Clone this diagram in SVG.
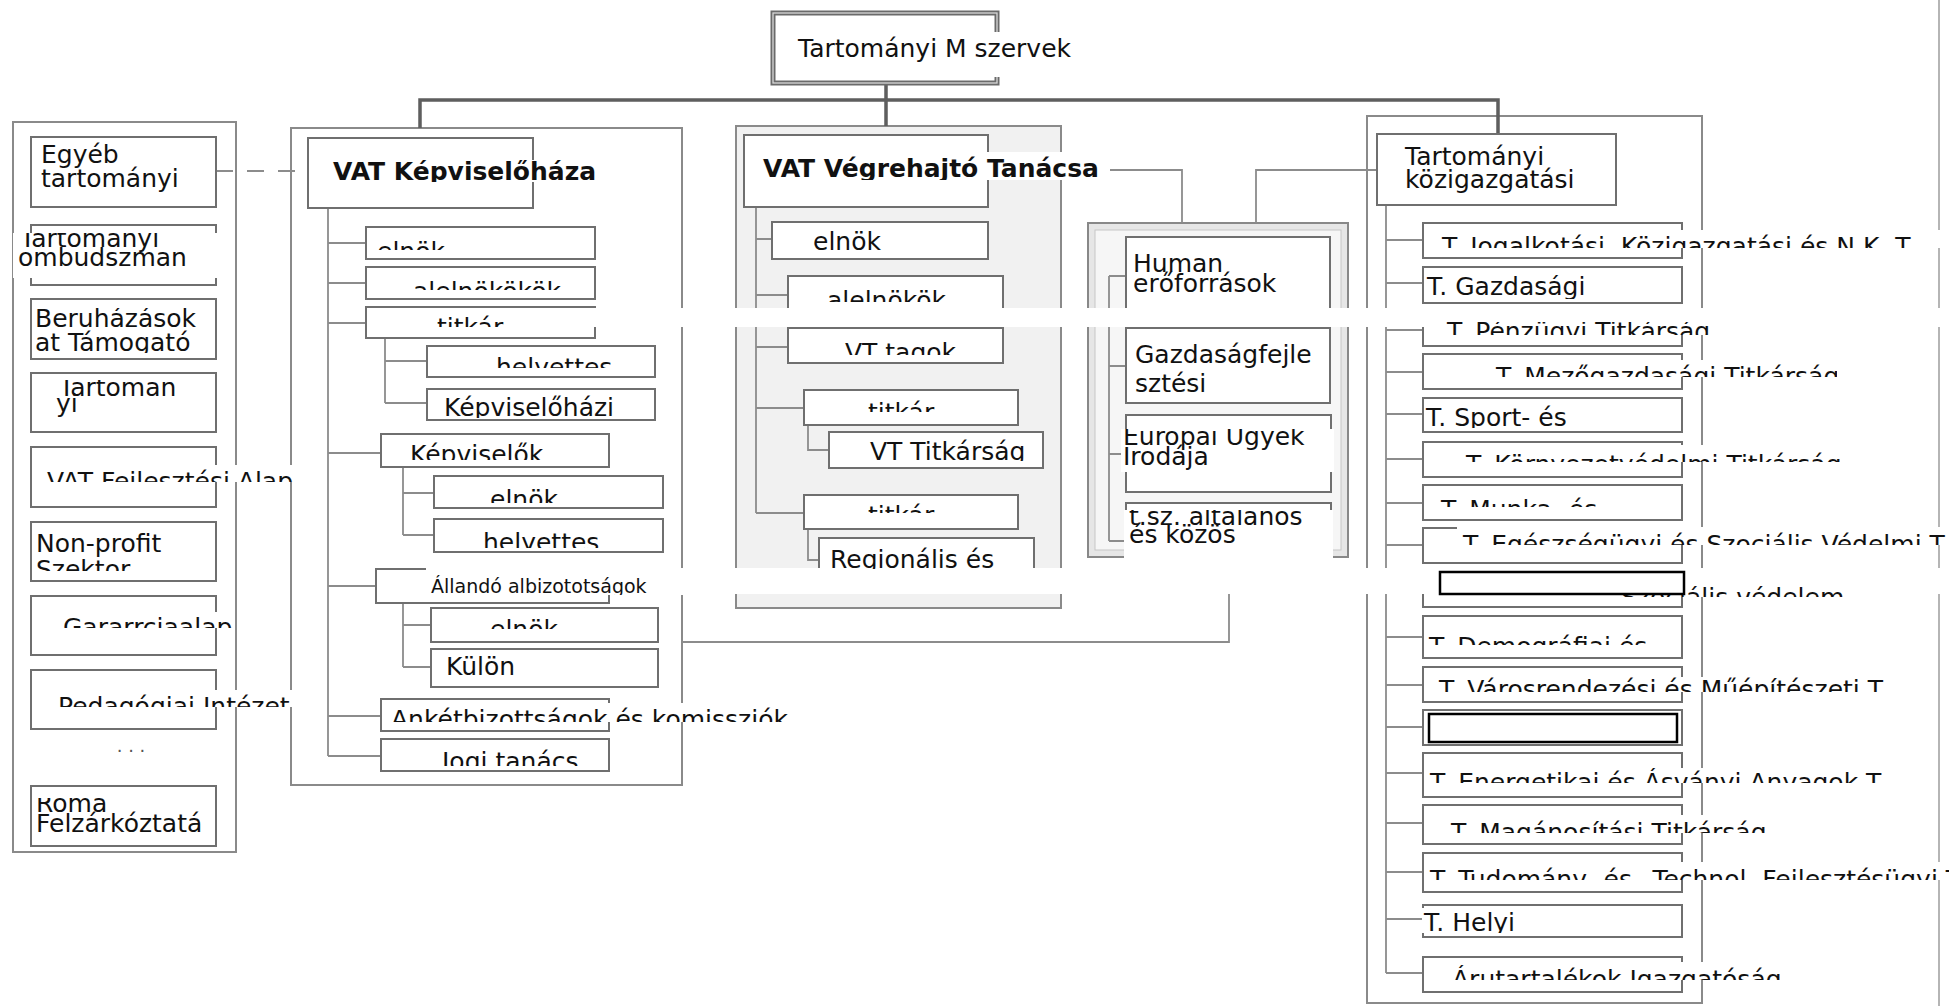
<svg xmlns="http://www.w3.org/2000/svg" width="1949" height="1006" viewBox="0 0 1949 1006">
<style>
.t{font-family:"DejaVu Sans","Liberation Sans",sans-serif;font-size:25px;fill:#111}
.b{font-weight:bold}
.s{font-size:19px}
.bg{fill:#fff}
.box{fill:#fff;stroke:#6f6f6f;stroke-width:2;mask:url(#bm)}
.cont{fill:none;stroke:#8a8a8a;stroke-width:2;mask:url(#bm)}
.ln{fill:none;stroke:#8c8c8c;stroke-width:1.8}
.main{fill:none;stroke:#5e5e5e;stroke-width:3.5}
.blk{fill:#fff;stroke:#000;stroke-width:2.5}
</style>
<defs>
<mask id="bm" maskUnits="userSpaceOnUse" x="0" y="0" width="1949" height="1006">
<rect x="0" y="0" width="1949" height="1006" fill="#fff"/>
<rect x="433" y="308" width="1516" height="19" fill="#000"/>
<rect x="426" y="568" width="1523" height="26" fill="#000"/>
</mask>
</defs>
<rect x="0" y="0" width="1949" height="1006" fill="#fff"/>

<g id="containers">
<line class="cont" x1="1939" y1="0" x2="1939" y2="1006" style="stroke:#b5b5b5"/>
<rect class="cont" x="13" y="122" width="223" height="730"/>
<rect class="cont" x="291" y="128" width="391" height="657"/>
<rect class="cont" x="736" y="126" width="325" height="482" style="fill:#f1f1f1"/>
<rect class="cont" x="1088" y="223" width="260" height="334" style="fill:#e6e6e6;stroke:#888"/>
<rect class="cont" x="1095" y="230" width="246" height="320" style="fill:#f6f6f6;stroke:#c6c6c6;stroke-width:1"/>
<rect class="cont" x="1367" y="116" width="335" height="887"/>
</g>

<g id="connectors" mask="url(#bm)">
<path class="main" d="M420,128 V100 H1498 V134 M886,83 V126"/>
<path class="ln" d="M216,171 H308" stroke-dasharray="17 14"/>
<path class="ln" d="M1110,170 H1182 V223 M1377,170 H1256 V223 M682,642 H1229 V557"/>
<path class="ln" d="M328,208 V756 M328,243 H366 M328,283 H366 M328,323 H366 M385,338 V403 M385,361 H427 M385,403 H427 M328,453 H381 M403,467 V535 M403,493 H434 M403,535 H434 M328,586 H376 M403,603 V667 M403,625 H431 M403,667 H431 M328,716 H381 M328,756 H381"/>
<path class="ln" d="M756,207 V513 M756,239 H772 M756,295 H788 M756,347 H788 M756,408 H804 M756,513 H804 M808,425 V450 H829 M808,529 V560 H819"/>
<path class="ln" d="M1109,276 V541 M1109,276 H1126 M1109,366 H1126 M1109,454 H1126 M1109,541 H1126"/>
<path class="ln" d="M1386,205 V973 M1386,240 H1423 M1386,283 H1423 M1386,330 H1423 M1386,372 H1423 M1386,414 H1423 M1386,459 H1423 M1386,503 H1423 M1386,545 H1423 M1386,590 H1423 M1386,637 H1423 M1386,685 H1423 M1386,727 H1423 M1386,773 H1423 M1386,823 H1423 M1386,872 H1423 M1386,919 H1423 M1386,973 H1423"/>
</g>

<g id="n_title">
<rect x="773" y="13" width="224" height="70" fill="#fff" stroke="#6a6a6a" stroke-width="5"/>
<rect x="773" y="13" width="224" height="70" fill="none" stroke="#d8d8d8" stroke-width="1.3"/>
<svg x="790" y="32" width="290" height="45" viewBox="790 32 290 45"><rect class="bg" x="790" y="32" width="290" height="45"/><text class="t" x="798" y="57">Tartományi M szervek</text></svg>
</g>

<!-- left column -->
<g id="n_egyeb">
<rect class="box" x="31" y="137" width="185" height="70"/>
<svg x="33" y="139" width="182" height="55" viewBox="33 139 182 55"><text class="t" x="41" y="163">Egyéb</text><text class="t" x="41" y="187">tartományi</text></svg>
</g>
<g id="n_ombudsman">
<rect class="box" x="31" y="225" width="185" height="60"/>
<svg x="13" y="233" width="205" height="45" viewBox="13 233 205 45"><rect class="bg" x="13" y="233" width="205" height="45"/><text class="t" x="20" y="247">Tartományi</text><text class="t" x="18" y="266">ombudszman</text></svg>
</g>
<g id="n_beruhazasok">
<rect class="box" x="31" y="299" width="185" height="60"/>
<svg x="33" y="308" width="182" height="45" viewBox="33 308 182 45"><rect class="bg" x="33" y="308" width="182" height="45"/><text class="t" x="35" y="327">Beruházások</text><text class="t" x="35" y="351">at Támogató</text></svg>
</g>
<g id="n_tartomanyi2">
<rect class="box" x="31" y="373" width="185" height="59"/>
<svg x="33" y="380" width="182" height="40" viewBox="33 380 182 40"><rect class="bg" x="33" y="380" width="182" height="40"/><text class="t" x="59" y="396">Tartoman</text><text class="t" x="56" y="412">yi</text></svg>
</g>
<g id="n_fejlesztesi">
<rect class="box" x="31" y="447" width="185" height="60"/>
<svg x="45" y="465" width="254" height="17" viewBox="45 465 254 17"><rect class="bg" x="45" y="465" width="254" height="17"/><text class="t" x="47" y="490">VAT Fejlesztési Alap</text></svg>
</g>
<g id="n_nonprofit">
<rect class="box" x="31" y="522" width="185" height="59"/>
<svg x="33" y="530" width="182" height="41" viewBox="33 530 182 41"><rect class="bg" x="33" y="530" width="182" height="41"/><text class="t" x="36" y="552">Non-profit</text><text class="t" x="36" y="578">Szektor</text></svg>
</g>
<g id="n_garancia">
<rect class="box" x="31" y="596" width="185" height="59"/>
<svg x="60" y="612" width="174" height="16" viewBox="60 612 174 16"><rect class="bg" x="60" y="612" width="174" height="16"/><text class="t" x="63" y="636">Gararrciaalap</text></svg>
</g>
<g id="n_pedagogiai">
<rect class="box" x="31" y="670" width="185" height="59"/>
<svg x="56" y="690" width="236" height="17" viewBox="56 690 236 17"><rect class="bg" x="56" y="690" width="236" height="17"/><text class="t" x="58" y="715">Pedagógiai Intézet</text></svg>
</g>
<g id="n_dots"><text class="t" x="131" y="752" text-anchor="middle" style="font-size:18px;fill:#555">. . .</text></g>
<g id="n_roma">
<rect class="box" x="31" y="786" width="185" height="60"/>
<svg x="32" y="798" width="172" height="35" viewBox="32 798 172 35"><rect class="bg" x="32" y="798" width="172" height="35"/><text class="t" x="36" y="812">Roma</text><text class="t" x="36" y="832">Felzárkóztatá</text></svg>
</g>

<!-- Képviselőháza -->
<g id="n_kepviselohaz">
<rect class="box" x="308" y="138" width="225" height="70"/>
<svg x="330" y="160" width="267" height="22" viewBox="330 160 267 22"><rect class="bg" x="330" y="160" width="267" height="22"/><text class="t b" x="333" y="180">VAT Képviselőháza</text></svg>
</g>
<g id="n_k_elnok">
<rect class="box" x="366" y="227" width="229" height="32"/>
<svg x="370" y="236" width="224" height="14" viewBox="370 236 224 14"><text class="t" x="377" y="260">elnök</text></svg>
</g>
<g id="n_k_alelnokok">
<rect class="box" x="366" y="267" width="229" height="32"/>
<svg x="370" y="276" width="224" height="14" viewBox="370 276 224 14"><text class="t" x="413" y="300">alelnökökök</text></svg>
</g>
<g id="n_k_titkar">
<rect class="box" x="366" y="307" width="229" height="31"/>
<svg x="433" y="308" width="160" height="19" viewBox="433 308 160 19"><rect class="bg" x="433" y="308" width="160" height="19"/><text class="t" x="437" y="336">titkár</text></svg>
</g>
<g id="n_k_helyettes1">
<rect class="box" x="427" y="346" width="228" height="31"/>
<svg x="430" y="350" width="224" height="18" viewBox="430 350 224 18"><text class="t" x="496" y="376">helyettes</text></svg>
</g>
<g id="n_k_kepviselohazi">
<rect class="box" x="427" y="389" width="228" height="31"/>
<svg x="430" y="392" width="224" height="26" viewBox="430 392 224 26"><text class="t" x="444" y="416">Képviselőházi</text></svg>
</g>
<g id="n_k_kepviselok">
<rect class="box" x="381" y="434" width="228" height="33"/>
<svg x="384" y="438" width="224" height="22" viewBox="384 438 224 22"><text class="t" x="410" y="463">Képviselők</text></svg>
</g>
<g id="n_k_elnok2">
<rect class="box" x="434" y="476" width="229" height="32"/>
<svg x="437" y="484" width="224" height="19" viewBox="437 484 224 19"><text class="t" x="490" y="508">elnök</text></svg>
</g>
<g id="n_k_helyettes2">
<rect class="box" x="434" y="519" width="229" height="33"/>
<svg x="437" y="524" width="224" height="24" viewBox="437 524 224 24"><text class="t" x="483" y="551">helyettes</text></svg>
</g>
<g id="n_k_allando">
<rect class="box" x="376" y="569" width="233" height="34"/>
<svg x="426" y="568" width="260" height="27" viewBox="426 568 260 27"><rect class="bg" x="426" y="568" width="260" height="27"/><text class="t s" x="431" y="593">Állandó albizototságok</text></svg>
</g>
<g id="n_k_elnok3">
<rect class="box" x="431" y="608" width="227" height="34"/>
<svg x="434" y="613" width="222" height="16" viewBox="434 613 222 16"><text class="t" x="490" y="638">elnök</text></svg>
</g>
<g id="n_k_kulon">
<rect class="box" x="431" y="649" width="227" height="38"/>
<svg x="442" y="650" width="203" height="27" viewBox="442 650 203 27"><rect class="bg" x="442" y="650" width="203" height="27"/><text class="t" x="446" y="675">Külön</text></svg>
</g>
<g id="n_k_anket">
<rect class="box" x="381" y="699" width="228" height="32"/>
<svg x="387" y="703" width="405" height="19" viewBox="387 703 405 19"><rect class="bg" x="387" y="703" width="405" height="19"/><text class="t" x="391" y="728">Ankétbizottságok és komissziók</text></svg>
</g>
<g id="n_k_jogi">
<rect class="box" x="381" y="739" width="228" height="32"/>
<svg x="384" y="744" width="224" height="22" viewBox="384 744 224 22"><text class="t" x="442" y="770">Jogi tanács</text></svg>
</g>

<!-- Végrehajtó Tanács -->
<g id="n_vegrehajto">
<rect class="box" x="744" y="135" width="244" height="72"/>
<svg x="760" y="152" width="347" height="28" viewBox="760 152 347 28"><rect class="bg" x="760" y="152" width="347" height="28"/><text class="t b" x="763" y="177">VAT Végrehajtó Tanácsa</text></svg>
</g>
<g id="n_v_elnok">
<rect class="box" x="772" y="222" width="216" height="37"/>
<text class="t" x="813" y="250">elnök</text>
</g>
<g id="n_v_alelnokok">
<rect class="box" x="788" y="276" width="215" height="40"/>
<svg x="790" y="280" width="212" height="22" viewBox="790 280 212 22"><text class="t" x="827" y="309">alelnökök</text></svg>
</g>
<g id="n_v_tagok">
<rect class="box" x="788" y="328" width="215" height="35"/>
<svg x="790" y="332" width="212" height="23" viewBox="790 332 212 23"><text class="t" x="845" y="361">VT tagok</text></svg>
</g>
<g id="n_v_titkar1">
<rect class="box" x="804" y="390" width="214" height="35"/>
<svg x="806" y="394" width="210" height="18" viewBox="806 394 210 18"><text class="t" x="868" y="421">titkár</text></svg>
</g>
<g id="n_v_titkarsag">
<rect class="box" x="829" y="432" width="214" height="36"/>
<svg x="831" y="436" width="210" height="25" viewBox="831 436 210 25"><text class="t" x="870" y="460">VT Titkárság</text></svg>
</g>
<g id="n_v_titkar2">
<rect class="box" x="804" y="495" width="214" height="34"/>
<svg x="806" y="499" width="210" height="14" viewBox="806 499 210 14"><text class="t" x="868" y="524">titkár</text></svg>
</g>
<g id="n_v_regionalis">
<rect class="box" x="819" y="538" width="215" height="42"/>
<svg x="821" y="546" width="212" height="23" viewBox="821 546 212 23"><rect class="bg" x="821" y="546" width="212" height="23"/><text class="t" x="830" y="568">Regionális és</text></svg>
</g>

<!-- Human container items -->
<g id="n_human">
<rect class="box" x="1126" y="237" width="204" height="80"/>
<svg x="1128" y="250" width="200" height="46" viewBox="1128 250 200 46"><text class="t" x="1133" y="272">Human</text><text class="t" x="1133" y="292">erőforrások</text></svg>
</g>
<g id="n_gazdasagfejl">
<rect class="box" x="1126" y="328" width="204" height="75"/>
<text class="t" x="1135" y="363">Gazdaságfejle</text>
<text class="t" x="1135" y="392">sztési</text>
</g>
<g id="n_europai">
<rect class="box" x="1126" y="415" width="205" height="77"/>
<svg x="1121" y="429" width="213" height="43" viewBox="1121 429 213 43"><rect class="bg" x="1121" y="429" width="213" height="43"/><text class="t" x="1123" y="445">Európai Ugyek</text><text class="t" x="1123" y="465">Irodája</text></svg>
</g>
<g id="n_tsz">
<rect class="box" x="1126" y="503" width="205" height="50"/>
<rect class="bg" x="1124" y="510" width="209" height="59"/>
<svg x="1124" y="510" width="209" height="43" viewBox="1124 510 209 43"><text class="t" x="1129" y="525">t.sz. általános</text><text class="t" x="1129" y="543">és közös</text></svg>
</g>

<!-- Right column -->
<g id="n_kozigazgatasi">
<rect class="box" x="1377" y="134" width="239" height="71"/>
<text class="t" x="1405" y="165">Tartományi</text>
<text class="t" x="1405" y="188">közigazgatási</text>
</g>
<g id="n_r01">
<rect class="box" x="1423" y="223" width="259" height="35"/>
<svg x="1438" y="230" width="511" height="18" viewBox="1438 230 511 18"><rect class="bg" x="1438" y="230" width="511" height="18"/><text class="t" x="1442" y="255">T. Jogalkotási, Közigazgatási és N.K. T.</text></svg>
</g>
<g id="n_r02">
<rect class="box" x="1423" y="267" width="259" height="36"/>
<svg x="1425" y="275" width="170" height="24" viewBox="1425 275 170 24"><rect class="bg" x="1425" y="275" width="170" height="24"/><text class="t" x="1427" y="295">T. Gazdasági</text></svg>
</g>
<g id="n_r03">
<rect class="box" x="1423" y="312" width="259" height="34"/>
<svg x="1445" y="322" width="280" height="13" viewBox="1445 322 280 13"><rect class="bg" x="1445" y="322" width="280" height="13"/><text class="t" x="1447" y="340">T. Pénzügyi Titkárság</text></svg>
</g>
<g id="n_r04">
<rect class="box" x="1423" y="354" width="259" height="35"/>
<svg x="1492" y="360" width="345" height="17" viewBox="1492 360 345 17"><rect class="bg" x="1492" y="360" width="345" height="17"/><text class="t" x="1496" y="385">T. Mezőgazdasági Titkárság</text></svg>
</g>
<g id="n_r05">
<rect class="box" x="1423" y="398" width="259" height="34"/>
<svg x="1424" y="403" width="257" height="25" viewBox="1424 403 257 25"><rect class="bg" x="1424" y="403" width="257" height="25"/><text class="t" x="1426" y="426">T. Sport- és</text></svg>
</g>
<g id="n_r06">
<rect class="box" x="1423" y="442" width="259" height="35"/>
<svg x="1460" y="445" width="392" height="17" viewBox="1460 445 392 17"><rect class="bg" x="1460" y="445" width="392" height="17"/><text class="t" x="1466" y="473">T. Környezetvédelmi Titkárság</text></svg>
</g>
<g id="n_r07">
<rect class="box" x="1423" y="485" width="259" height="35"/>
<svg x="1438" y="494" width="240" height="13" viewBox="1438 494 240 13"><text class="t" x="1441" y="518">T. Munka- és</text></svg>
</g>
<g id="n_r08">
<rect class="box" x="1423" y="528" width="259" height="35"/>
<svg x="1457" y="527" width="492" height="18" viewBox="1457 527 492 18"><rect class="bg" x="1457" y="527" width="492" height="18"/><text class="t" x="1463" y="553">T. Egészségügyi és Szociális Védelmi T.</text></svg>
</g>
<g id="n_r09">
<rect class="box" x="1423" y="572" width="259" height="35"/>
<svg x="1440" y="586" width="460" height="11" viewBox="1440 586 460 11"><rect class="bg" x="1440" y="586" width="460" height="11"/><text class="t" x="1621" y="606">Szociális védelem</text></svg>
<rect class="blk" x="1440" y="572" width="244" height="22"/>
</g>
<g id="n_r10">
<rect class="box" x="1423" y="616" width="259" height="42"/>
<svg x="1427" y="633" width="220" height="12" viewBox="1427 633 220 12"><rect class="bg" x="1427" y="633" width="220" height="12"/><text class="t" x="1429" y="655">T. Demográfiai és</text></svg>
</g>
<g id="n_r11">
<rect class="box" x="1423" y="667" width="259" height="35"/>
<svg x="1437" y="677" width="458" height="15" viewBox="1437 677 458 15"><rect class="bg" x="1437" y="677" width="458" height="15"/><text class="t" x="1439" y="698">T. Városrendezési és Műépítészeti T.</text></svg>
</g>
<g id="n_r12">
<rect class="box" x="1423" y="710" width="259" height="35"/>
<rect class="blk" x="1429" y="714" width="248" height="28"/>
</g>
<g id="n_r13">
<rect class="box" x="1423" y="753" width="259" height="44"/>
<svg x="1428" y="768" width="466" height="15" viewBox="1428 768 466 15"><rect class="bg" x="1428" y="768" width="466" height="15"/><text class="t" x="1430" y="791">T. Energetikai és Ásványi Anyagok T.</text></svg>
</g>
<g id="n_r14">
<rect class="box" x="1423" y="805" width="259" height="39"/>
<svg x="1449" y="815" width="324" height="18" viewBox="1449 815 324 18"><rect class="bg" x="1449" y="815" width="324" height="18"/><text class="t" x="1451" y="841">T. Magánosítási Titkárság</text></svg>
</g>
<g id="n_r15">
<rect class="box" x="1423" y="853" width="259" height="39"/>
<svg x="1428" y="862" width="521" height="18" viewBox="1428 862 521 18"><rect class="bg" x="1428" y="862" width="521" height="18"/><text class="t" x="1430" y="888">T. Tudomány- és –Technol. Fejlesztésügyi T.</text></svg>
</g>
<g id="n_r16">
<rect class="box" x="1423" y="905" width="259" height="32"/>
<svg x="1422" y="908" width="140" height="25" viewBox="1422 908 140 25"><rect class="bg" x="1422" y="908" width="140" height="25"/><text class="t" x="1424" y="931">T. Helyi</text></svg>
</g>
<g id="n_r17">
<rect class="box" x="1423" y="957" width="259" height="35"/>
<svg x="1450" y="962" width="333" height="18" viewBox="1450 962 333 18"><rect class="bg" x="1450" y="962" width="333" height="18"/><text class="t" x="1452" y="988">Árutartalékok Igazgatósága</text></svg>
</g>
</svg>
